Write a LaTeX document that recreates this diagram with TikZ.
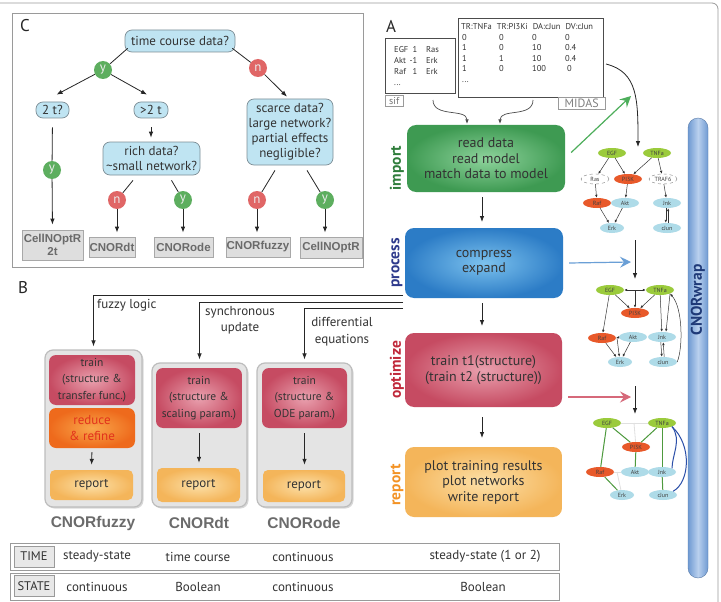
\documentclass[tikz,border=0pt]{standalone}
\usepackage{fontspec}
\setmainfont{PT Sans}
\newfontfamily\arialf{Liberation Sans}
\usetikzlibrary{arrows.meta,shapes.geometric,shadows,calc}
\newcommand{\fsz}[2]{\fontsize{#1}{#2}\selectfont}
\definecolor{decf}{HTML}{BFE4F2}
\definecolor{decb}{HTML}{7D8E96}
\definecolor{yesc}{HTML}{5DAE5F}
\definecolor{noc}{HTML}{E06666}
\definecolor{resf}{HTML}{DEDEDE}
\definecolor{resb}{HTML}{A8A8A8}
\definecolor{rest}{HTML}{6A6A6A}
\definecolor{frm}{HTML}{9A9A9A}
\definecolor{txt}{HTML}{333333}
\definecolor{impD}{HTML}{3E9A52}
\definecolor{impL}{HTML}{8ED39C}
\definecolor{proD}{HTML}{2C7CC6}
\definecolor{proL}{HTML}{7CC2EE}
\definecolor{optD}{HTML}{C64B62}
\definecolor{optL}{HTML}{E9A0AE}
\definecolor{repD}{HTML}{F4B55A}
\definecolor{repL}{HTML}{FCE0A8}
\definecolor{redD}{HTML}{EE6A1C}
\definecolor{redL}{HTML}{F9A64A}
\definecolor{redT}{HTML}{E2331C}
\definecolor{labImp}{HTML}{2F7D3B}
\definecolor{labPro}{HTML}{2E3A8C}
\definecolor{labOpt}{HTML}{C0283A}
\definecolor{labRep}{HTML}{F39224}
\definecolor{contf}{HTML}{E4E4E4}
\definecolor{contb}{HTML}{BDBDBD}
\definecolor{nG}{HTML}{9BCB3C}
\definecolor{nR}{HTML}{E8592A}
\definecolor{nB}{HTML}{AEDBE8}
\definecolor{wrapD}{HTML}{6F9AD2}
\definecolor{wrapL}{HTML}{B9D0EE}
\definecolor{wrapT}{HTML}{1F3A78}
\definecolor{arrG}{HTML}{4DAE5B}
\definecolor{arrB}{HTML}{6A9FD6}
\definecolor{arrR}{HTML}{D6697A}
\definecolor{edgeG}{HTML}{4E9A3E}
\definecolor{edgeBl}{HTML}{2B4FA8}
\tikzset{
  decbox/.style={draw=decb, line width=0.7pt, fill=decf, rounded corners=7pt, align=center, inner sep=0pt, font=\fsz{13}{15}, text=txt},
  ycirc/.style={circle, fill=yesc, minimum size=18pt, inner sep=0pt, text=white!85!gray, font=\fsz{13}{13}},
  ncirc/.style={ycirc, fill=noc},
  resbox/.style={draw=resb, line width=0.8pt, fill=resf, align=center, inner sep=0pt, font=\arialf\bfseries\fsz{11.5}{13}, text=rest},
  cline/.style={draw=black!85, line width=0.8pt},
  carr/.style={cline, -{Latex[length=6pt,width=4.5pt]}},
  panel/.style={draw=frm, line width=1pt},
  plab/.style={font=\fsz{17}{17}, text=black!85, inner sep=0pt},
  stage/.style={rounded corners=9pt, align=center, inner sep=0pt, font=\fsz{14}{15.5}, text=txt},
  stlab/.style={rotate=90, font=\bfseries\fsz{15.5}{15.5}, inner sep=0pt},
  cont/.style={rounded corners=8pt, fill=contf, draw=contb, line width=1.2pt, drop shadow={shadow xshift=1.5pt, shadow yshift=-1.5pt, opacity=0.3}},
  trn/.style={rounded corners=7pt, inner color=optL, outer color=optD, align=center, font=\fsz{11.5}{16.5}, text=txt, inner sep=0pt},
  rpt/.style={rounded corners=5pt, inner color=repL, outer color=repD, align=center, font=\fsz{13}{14}, text=txt, inner sep=0pt},
  toolname/.style={font=\arialf\bfseries\fsz{15.5}{15.5}, text=black!58, inner sep=0pt},
  nn/.style={ellipse, minimum width=28pt, minimum height=10pt, inner sep=0pt, font=\fsz{6}{6}, text=black!75},
  ngr/.style={nn, fill=nG}, nrd/.style={nn, fill=nR}, nbl/.style={nn, fill=nB},
  ndsh/.style={nn, draw=gray, dashed, fill=white},
  nedge/.style={draw=black!80, line width=0.5pt, -{Latex[length=3pt,width=2.5pt]}},
  gedge/.style={draw=edgeG, line width=1pt},
  fedge/.style={draw=black!12, line width=0.8pt},
  bedge/.style={draw=edgeBl, line width=1pt},
  fat/.style={line width=1.2pt, -{Stealth[length=11pt,width=11pt,inset=4pt]}},
  tabrow/.style={draw=frm, line width=1pt, minimum width=549, minimum height=27, inner sep=0pt},
  tablab/.style={draw=frm, fill=black!9, line width=0.8pt, minimum width=40, minimum height=21, inner sep=0pt, font=\fsz{12.5}{12.5}, text=txt},
  tabtxt/.style={font=\fsz{13}{13}, text=txt, inner sep=0pt},
  blab/.style={font=\fsz{13}{16.5}, text=txt, inner sep=0pt, align=center},
}
\begin{document}
\begin{tikzpicture}[x=1pt,y=-1pt]
\useasboundingbox (0,0) rectangle (721,602);
\fill[white] (0,0) rectangle (721,602);
\draw[frm, line width=0.8pt, rounded corners=6pt] (-5,3) -- (718,3) -- (718,610);

% ================= Panel C =================
\draw[panel] (12,14) rectangle (363,267);
\node[plab] (labC) at (25,26) {C};
\node[decbox, minimum width=110, minimum height=22] (tc) at (180,41) {time course data?};
\node[ycirc] (y1) at (103,70) {y};
\node[ncirc] (n1) at (258,68) {n};
\node[decbox, minimum width=33, minimum height=16] (t2) at (52.5,110) {2 t?};
\node[decbox, minimum width=34, minimum height=16] (gt2) at (151,110) {>2 t};
\node[decbox, minimum width=97, minimum height=33] (rich) at (151.5,158.5) {rich data?\\\textasciitilde small network?};
\node[decbox, minimum width=86, minimum height=66] (scarce) at (290,132) {scarce data?\\large network?\\partial effects\\negligible?};
\node[ycirc] (y2) at (52,170) {y};
\node[ncirc] (n2) at (117,200) {n};
\node[ycirc] (y3) at (183,200) {y};
\node[ncirc] (n3) at (257,200) {n};
\node[ycirc] (y4) at (325,200) {y};
\node[resbox, minimum width=61, minimum height=30] (r1) at (52.5,245) {CellNOptR\\2t};
\node[resbox, minimum width=46, minimum height=20] (r2) at (112,247) {CNORdt};
\node[resbox, minimum width=59, minimum height=20] (r3) at (183.5,247) {CNORode};
\node[resbox, minimum width=64, minimum height=20] (r4) at (258,247) {CNORfuzzy};
\node[resbox, minimum width=62, minimum height=21] (r5) at (331,247.5) {CellNOptR};
\draw[cline] ($(tc.south west)+(3,-4)$) -- (y1);
\draw[cline] ($(tc.south east)+(-3,-4)$) -- (n1);
\draw[carr] (y1) -- ($(t2.north)+(4,-7)$);
\draw[carr] (y1) -- ($(gt2.north)+(-4,-7)$);
\draw[carr] (n1) -- ($(scarce.north)+(-3,-2)$);
\draw[carr, shorten <=9pt, shorten >=4pt] (gt2.south) -- (gt2.south |- rich.north);
\draw[cline, shorten <=9pt] (t2.south) -- (y2);
\draw[carr, shorten >=5pt] (y2) -- (r1.north);
\draw[cline] ($(rich.south)+(-18.5,5)$) -- (n2);
\draw[cline] ($(rich.south)+(20,5)$) -- (y3);
\draw[cline] ($(scarce.south)+(-15,5)$) -- (n3);
\draw[cline] ($(scarce.south)+(17,5)$) -- (y4);
\draw[carr, shorten >=4pt] (n2) -- (n2 |- r2.north);
\draw[carr, shorten >=4pt] (y3) -- (y3 |- r3.north);
\draw[carr, shorten >=4pt] (n3) -- (n3 |- r4.north);
\draw[carr, shorten >=4pt] (y4) -- (y4 |- r5.north);

% ================= Panel B =================
\node[plab] (labB) at (23,288) {B};
\node[cont, minimum width=97, minimum height=157] (fcont) at (93.5,428.5) {};
\node[cont, minimum width=95, minimum height=144] (dcont) at (199.5,435) {};
\node[cont, minimum width=95, minimum height=144] (ocont) at (304.5,435) {};
\node[trn, minimum width=86, minimum height=50] (ftr) at (92,380) {train\\(structure \&\\transfer func.)};
\node[trn, minimum width=86, minimum height=40, inner color=redL, outer color=redD, text=redT, font=\fsz{13}{16}] (fred) at (92,428) {reduce\\\& refine};
\node[rpt, minimum width=83, minimum height=30] (frep) at (91.5,485) {report};
\node[trn, minimum width=86, minimum height=60] (dtr) at (199,398) {train\\(structure \&\\scaling param.)};
\node[rpt, minimum width=83, minimum height=34] (drep) at (198.5,485) {report};
\node[trn, minimum width=85, minimum height=60] (otr) at (304.5,398) {train\\(structure \&\\ODE param.)};
\node[rpt, minimum width=82, minimum height=32] (orep) at (304,486) {report};
\draw[carr, shorten <=4pt, shorten >=5pt] (fred.south) -- (frep.north);
\draw[carr, shorten <=5pt, shorten >=5pt] (dtr.south) -- (dtr.south |- drep.north);
\draw[carr, shorten <=5pt, shorten >=5pt] (otr.south) -- (otr.south |- orep.north);
\node[toolname] (tnf) at (93,523) {CNORfuzzy};
\node[toolname] (tnd) at (199,523) {CNORdt};
\node[toolname] (tno) at (304,523) {CNORode};
\coordinate (b1) at (403,295);
\coordinate (b2) at (403,302);
\coordinate (b3) at (403,308);
\draw[carr, shorten >=3pt] (b1) -| (fcont.north);
\draw[carr, shorten >=3pt] (b2) -| (dcont.north);
\draw[carr, shorten >=3pt] (b3) -| (ocont.north);
\node[blab, anchor=west] (lfz) at (97,305) {fuzzy logic};
\node[blab] (lsy) at (240,320) {synchronous\\update};
\node[blab] (ldf) at (342,331.5) {differential\\equations};

% ================= Panel A =================
\node[plab] (labA) at (391,26) {A};
\node[draw=black!70, line width=0.8pt, minimum width=70, minimum height=55, anchor=north west, inner sep=0pt] (sif) at (385,38) {};
\node[anchor=north west, font=\fsz{8.5}{11}, align=left, text=black!80, inner sep=0pt] (siftxt) at (394,46) {%
\makebox[17pt][l]{EGF}\makebox[6pt][r]{1}\hspace{9pt}Ras\\
\makebox[17pt][l]{Akt}\makebox[6pt][r]{-1}\hspace{9pt}Erk\\
\makebox[17pt][l]{Raf}\makebox[6pt][r]{1}\hspace{9pt}Erk\\
...};
\node[draw=frm, text=black!55, font=\fsz{10}{10}, minimum width=18, minimum height=11, inner sep=0pt, anchor=north west] (siflab) at (385,95) {sif};
\node[draw=black!70, line width=0.8pt, minimum width=145, minimum height=79, anchor=north west, inner sep=0pt] (midas) at (458,18) {};
\node[anchor=north west, inner sep=0pt, font=\fsz{8.5}{10.5}, text=black!80] (midastxt) at (462,22) {%
\begin{tabular}{@{}p{37pt}@{}p{33pt}@{}p{33pt}@{}l@{}}
\multicolumn{4}{@{}l@{}}{\hspace{-1pt}TR:TNFa\hspace{5pt}TR:PI3Ki\hspace{5pt}DA:cJun\hspace{5pt}DV:cJun}\\
0&0&0&0\\
1&0&10&0.4\\
1&1&10&0.4\\
1&0&100&\hspace{2pt}0\\
...&&&\\
\end{tabular}};
\node[draw=frm, fill=white, text=black!50, font=\fsz{12}{12}, minimum width=47, minimum height=12, inner sep=0pt, anchor=north west] (midaslab) at (558,97) {MIDAS};

\node[stage, minimum width=158, minimum height=67, inner color=impL, outer color=impD] (imp) at (486,158.5) {read data\\read model\\match data to model};
\node[stage, minimum width=158, minimum height=70, inner color=proL, outer color=proD] (proc) at (484,263) {compress\\expand};
\node[stage, minimum width=157, minimum height=74, inner color=optL, outer color=optD] (opt) at (483.5,370) {train t1(structure)\\(train t2 (structure))};
\node[stage, minimum width=157, minimum height=70, inner color=repL, outer color=repD] (rep) at (483.5,482) {plot training results\\plot networks\\write report};
\node[stlab, text=labImp] (limp) at (397,168) {import};
\node[stlab, text=labPro] (lpro) at (397,263) {process};
\node[stlab, text=labOpt] (lopt) at (397,370) {optimize};
\node[stlab, text=labRep] (lrep) at (397,485) {report};
\draw[carr, shorten <=5pt, shorten >=6pt] (482,192) coordinate (ia) -- (482,228) coordinate (ib);
\draw[carr, shorten <=5pt, shorten >=7pt] (482,298) coordinate (pa) -- (482,333) coordinate (pb);
\draw[carr, shorten <=10pt, shorten >=9pt] (482,407) coordinate (oa) -- (482,447) coordinate (ob);

\coordinate (s1) at (433,100);
\coordinate (s2) at (467,124);
\coordinate (m1) at (533,100);
\coordinate (m2) at (500,124);
\draw[black!70, line width=0.7pt, -{Latex[length=4.5pt,width=3.5pt]}] (s1) .. controls (433,118) and (467,108) .. (s2);
\draw[black!70, line width=0.7pt, -{Latex[length=4.5pt,width=3.5pt]}] (m1) .. controls (533,118) and (500,108) .. (m2);

% colored arrows to networks
\coordinate (gtip) at (631,96);
\coordinate (btip) at (631,262);
\coordinate (rtip) at (631,397);
\draw[fat, draw=arrG] ($(imp.east)+(6,-6)$) -- (gtip);
\draw[fat, draw=arrB] ($(proc.east)+(6,0)$) -- (btip);
\draw[fat, draw=arrR] ($(opt.east)+(6,27)$) -- (rtip);

\coordinate (mo) at (606,64);
\coordinate (mt) at (638,147);
\draw[carr] (mo) .. controls (638,72) and (638,100) .. (mt);

% ---- network 1
\node[ngr] (a1EGF) at (612,153) {EGF};
\node[ngr] (a1TNFa) at (657,153) {TNFa};
\node[ndsh] (a1Ras) at (595,179) {Ras};
\node[nrd] (a1PI3K) at (628,179) {PI3K};
\node[ndsh] (a1TRAF6) at (663,179) {TRAF6};
\node[nrd] (a1Raf) at (597,203) {Raf};
\node[nbl] (a1Akt) at (625,203) {Akt};
\node[nbl] (a1Jnk) at (667,203) {Jnk};
\node[nbl, minimum width=24pt] (a1Erk) at (612,228) {Erk};
\node[nbl] (a1cJun) at (667,228) {cJun};
\draw[nedge] (a1EGF) -- (a1Ras);
\draw[nedge] (a1EGF) -- (a1PI3K);
\draw[nedge] (a1TNFa) -- (a1PI3K);
\draw[nedge] (a1TNFa) -- (a1TRAF6);
\draw[nedge] (a1Ras) -- (a1Raf);
\draw[nedge] (a1PI3K) -- (a1Akt);
\draw[nedge] (a1TRAF6) -- (a1Jnk);
\draw[nedge] (a1Raf) -- (a1Erk);
\draw[nedge] (a1Akt) -- (a1Erk);
\draw[nedge] ([xshift=-1.2pt]a1Jnk.south) -- ([xshift=-1.2pt]a1cJun.north);
\draw[nedge] ([xshift=1.2pt]a1cJun.north) -- ([xshift=1.2pt]a1Jnk.south);

\coordinate (d1a) at (635,240);
\coordinate (d1b) at (635,279);
\draw[carr] (d1a) -- (d1b);

% ---- network 2
\node[ngr] (a2EGF) at (610,290) {EGF};
\node[ngr] (a2TNFa) at (660,290) {TNFa};
\node[nrd] (a2PI3K) at (635,313) {PI3K};
\node[nrd] (a2Raf) at (602,338) {Raf};
\node[nbl] (a2Akt) at (633,337) {Akt};
\node[nbl] (a2Jnk) at (662,337) {Jnk};
\node[nbl, minimum width=24pt] (a2Erk) at (620,362) {Erk};
\node[nbl] (a2cJun) at (663,362) {cJun};
\draw[nedge, {Latex[length=3pt,width=2.5pt]}-{Latex[length=3pt,width=2.5pt]}] (a2EGF) -- (a2TNFa);
\coordinate (a2m) at (635,290);
\draw[nedge] (a2m) -- (a2PI3K);
\draw[nedge] (a2EGF) -- (a2PI3K);
\draw[nedge] (a2TNFa) -- (a2PI3K);
\draw[nedge] (a2EGF) -- (a2Raf);
\draw[nedge] (a2Akt) -- (a2Raf);
\coordinate (a2v) at (617,338);
\draw[nedge] (a2v) -- (a2Erk);
\draw[nedge] (a2Raf) -- (a2Erk);
\draw[nedge] (a2Akt) -- (a2Erk);
\draw[nedge] (a2TNFa) -- (a2Jnk);
\draw[nedge] (a2TNFa.south east) -- ([xshift=4pt]a2Jnk.north);
\draw[nedge] (a2cJun.east) .. controls (683,348) and (683,308) .. (a2TNFa.south east);
\draw[nedge] ([xshift=-1.2pt]a2Jnk.south) -- ([xshift=-1.2pt]a2cJun.north);
\draw[nedge] ([xshift=1.2pt]a2cJun.north) -- ([xshift=1.2pt]a2Jnk.south);

\coordinate (d2a) at (635,386);
\coordinate (d2b) at (635,414);
\draw[carr] (d2a) -- (d2b);

% ---- network 3
\node[ngr] (a3EGF) at (607,423) {EGF};
\node[ngr] (a3TNFa) at (662,423) {TNFa};
\node[nrd] (a3PI3K) at (636,447) {PI3K};
\node[nrd] (a3Raf) at (600,472) {Raf};
\node[nbl] (a3Akt) at (635,472) {Akt};
\node[nbl] (a3Jnk) at (662,472) {Jnk};
\node[nbl, minimum width=24pt] (a3Erk) at (622,495) {Erk};
\node[nbl] (a3cJun) at (663,495) {cJun};
\coordinate (a3m) at (634,423);
\coordinate (a3v) at (617,472);
\draw[fedge] (a3EGF) -- (a3TNFa);
\draw[fedge] (a3m) -- (a3PI3K);
\draw[fedge] (a3Raf) -- (a3Akt);
\draw[fedge] (a3v) -- (a3Erk);
\draw[gedge] (a3EGF) -- (a3PI3K);
\draw[gedge] (a3TNFa) -- (a3PI3K);
\draw[gedge] (a3EGF) -- (a3Raf);
\draw[gedge] (a3PI3K) -- (a3Akt);
\draw[gedge] (a3TNFa) -- (a3Jnk);
\draw[gedge] (a3Jnk) -- (a3cJun);
\draw[gedge] (a3Raf) -- (a3Erk);
\draw[bedge] (a3TNFa.south east) .. controls (682,440) and (672,455) .. (a3Jnk.north east);
\draw[bedge] (a3TNFa.south east) .. controls (692,445) and (690,482) .. (a3cJun.north east);

% ---- CNORwrap
\node[rounded corners=10pt, minimum width=20, minimum height=460, inner sep=0pt, left color=wrapD, right color=wrapD, middle color=wrapL, draw=wrapD!80!black] (wrap) at (698,348) {};
\node[rotate=90, font=\bfseries\fsz{15.5}{15.5}, text=wrapT, inner sep=0pt] (wraplab) at (698,300) {CNORwrap};

% ================= bottom table =================
\node[tabrow] (timerow) at (284.5,556.5) {};
\node[tabrow] (staterow) at (284.5,586.5) {};
\node[tablab] (timelab) at (34,556.5) {TIME};
\node[tablab] (statelab) at (34,586) {STATE};
\node[tabtxt] (t1) at (97,556.5) {steady-state};
\node[tabtxt] (t2x) at (198,556.5) {time course};
\node[tabtxt] (t3) at (303,556.5) {continuous};
\node[tabtxt] (t4) at (485,556.5) {steady-state (1 or 2)};
\node[tabtxt] (s1x) at (97,586.5) {continuous};
\node[tabtxt] (s2x) at (198,586.5) {Boolean};
\node[tabtxt] (s3x) at (303,586.5) {continuous};
\node[tabtxt] (s4x) at (483,586.5) {Boolean};
\end{tikzpicture}
\end{document}
